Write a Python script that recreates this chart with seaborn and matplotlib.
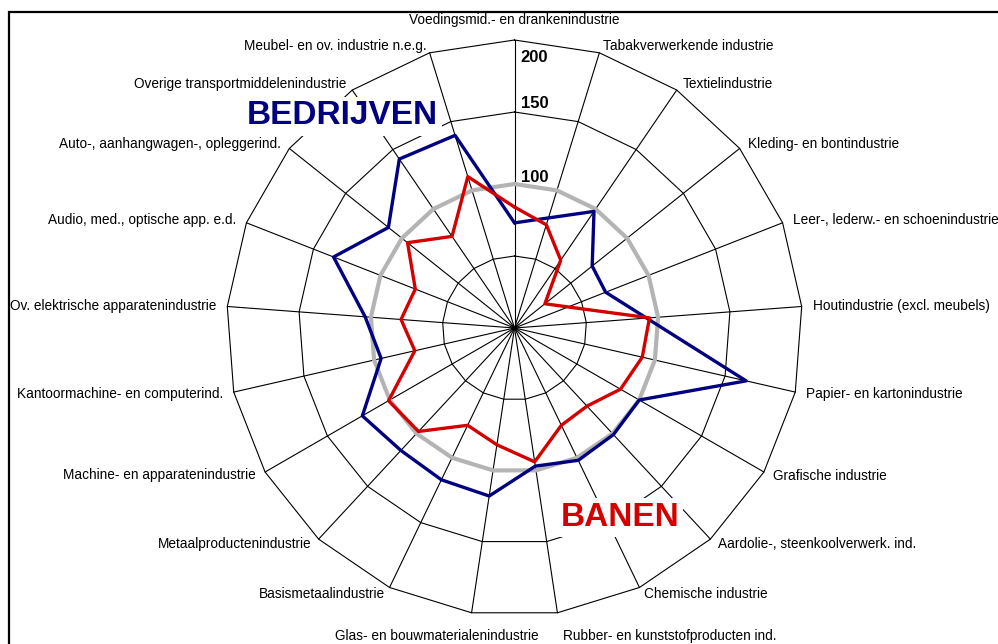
import numpy as np
import pandas as pd
import matplotlib
matplotlib.use('Agg')
import matplotlib.pyplot as plt
import matplotlib.patches as mpatches
import seaborn as sns

# branches, clockwise from the top
categories = [
    'Voedingsmid.- en drankenindustrie',
    'Tabakverwerkende industrie',
    'Textielindustrie',
    'Kleding- en bontindustrie',
    'Leer-, lederw.- en schoenindustrie',
    'Houtindustrie (excl. meubels)',
    'Papier- en kartonindustrie',
    'Grafische industrie',
    'Aardolie-, steenkoolverwerk. ind.',
    'Chemische industrie',
    'Rubber- en kunststofproducten ind.',
    'Glas- en bouwmaterialenindustrie',
    'Basismetaalindustrie',
    'Metaalproductenindustrie',
    'Machine- en apparatenindustrie',
    'Kantoormachine- en computerind.',
    'Ov. elektrische apparatenindustrie',
    'Audio, med., optische app. e.d.',
    'Auto-, aanhangwagen-, opleggerind.',
    'Overige transportmiddelenindustrie',
    'Meubel- en ov. industrie n.e.g.',
]
bedrijven = [73, 80, 98, 69, 68, 92, 165, 100, 101, 102, 97,
             118, 117, 116, 122, 95, 104, 135, 112, 142, 140]
banen = [84, 75, 57, 27, 40, 94, 91, 85, 74, 75, 94,
         82, 75, 98, 101, 71, 79, 74, 95, 77, 110]
index_lijn = [100, 100, 100, 100, 100, 100, 100, 100, 100, 100, 100,
              100, 100, 100, 100, 100, 100, 100, 100, 100, 100]
ring_values = [50, 100, 150, 200]
tick_labels = ['100', '150', '200']

sns.set_style('white')
plt.rcParams['font.family'] = ['Liberation Sans', 'DejaVu Sans']
plt.rcParams['text.color'] = 'black'

n = len(categories)
theta = np.linspace(0, 2 * np.pi, n, endpoint=False)
theta_closed = np.append(theta, 2 * np.pi)


def closed(vals):
    return list(vals) + [vals[0]]


df = pd.concat([
    pd.DataFrame({'theta': theta_closed, 'waarde': closed(index_lijn), 'reeks': 'Index'}),
    pd.DataFrame({'theta': theta_closed, 'waarde': closed(bedrijven), 'reeks': 'Bedrijven'}),
    pd.DataFrame({'theta': theta_closed, 'waarde': closed(banen), 'reeks': 'Banen'}),
], ignore_index=True)

fig = plt.figure(figsize=(9.98, 6.44), dpi=100)
ax = fig.add_axes([226.5 / 998, 28 / 644, 576 / 998, 576 / 644], projection='polar')
ax.set_theta_zero_location('N')
ax.set_theta_direction(-1)
ax.grid(False)
ax.spines['polar'].set_visible(False)

# polygon grid like the Excel radar
for v in ring_values:
    ax.plot(theta_closed, [v] * (n + 1), color='black', lw=0.8, zorder=1, clip_on=False)
for t in theta:
    ax.plot([t, t], [0, 200], color='black', lw=0.8, zorder=1, clip_on=False)

sns.lineplot(data=df, x='theta', y='waarde', hue='reeks', size='reeks',
             hue_order=['Index', 'Bedrijven', 'Banen'],
             palette={'Index': '#b4b4b4', 'Bedrijven': '#000080', 'Banen': '#d40000'},
             sizes={'Index': 3.0, 'Bedrijven': 2.4, 'Banen': 2.4},
             sort=False, estimator=None, legend=False, ax=ax, zorder=3)

ax.set_xlim(0, 2 * np.pi)
ax.set_ylim(0, 200)
ax.set_xticks([])
ax.set_yticks([])
ax.set_xlabel('')
ax.set_ylabel('')

# category labels
for i, (t, lab) in enumerate(zip(theta, categories)):
    s, c = np.sin(t), np.cos(t)
    if i == 0:
        ha, off = 'center', (0, 20)
    elif i == 10:
        ha, off = 'left', (6, -23)
    elif i == 11:
        ha, off = 'center', (-35, -23)
    else:
        ha = 'left' if s > 0 else 'right'
        off = (11 * s, 7 * c)
    ax.annotate(lab, xy=(t, 200), xytext=off, textcoords='offset pixels',
                ha=ha, va='center', fontsize=9.8, color='black',
                annotation_clip=False)

# value labels along the top spoke
for lab, v, dy in zip(tick_labels, [100, 150, 200], [7, 8, -18]):
    ax.annotate(lab, xy=(0, v), xytext=(6, dy), textcoords='offset pixels',
                ha='left', va='center', fontsize=12, fontweight='bold',
                color='black', annotation_clip=False, zorder=2)

fig.text(342 / 998, 1 - 116 / 644, 'BEDRIJVEN', color='#000080', fontsize=24,
         fontweight='bold', ha='center', va='center', zorder=2,
         bbox=dict(facecolor='white', edgecolor='none', pad=3))
fig.text(620 / 998, 1 - 517 / 644, 'BANEN', color='#d40000', fontsize=24,
         fontweight='bold', ha='center', va='center', zorder=2,
         bbox=dict(facecolor='white', edgecolor='none', pad=3))

fig.patches.append(mpatches.Rectangle((8.5 / 998, -0.1), 1.2, 1.1 - 12 / 644,
                                      transform=fig.transFigure, fill=False,
                                      edgecolor='black', lw=1.6))

fig.savefig('out.png', dpi=100, facecolor='white')
